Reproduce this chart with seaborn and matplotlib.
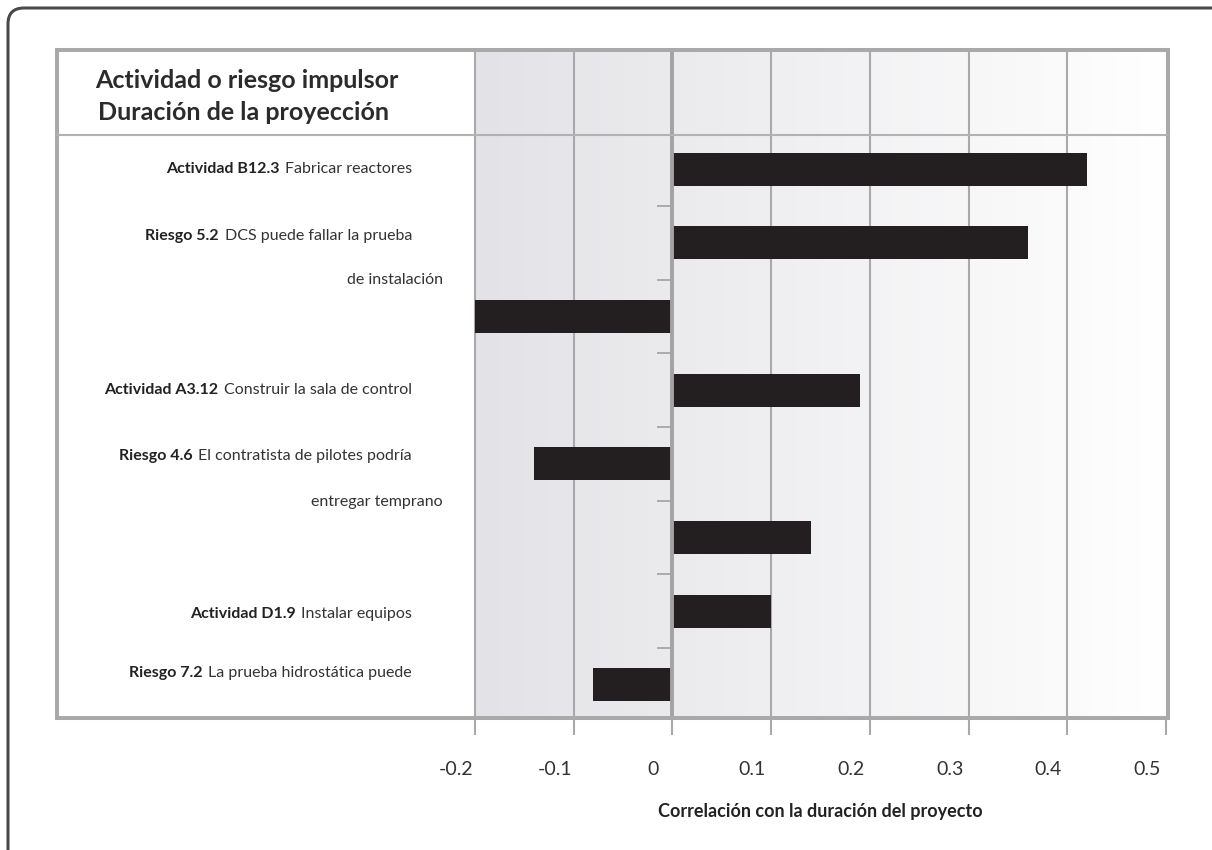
import numpy as np
import pandas as pd
import seaborn as sns
import matplotlib.pyplot as plt
from matplotlib.colors import LinearSegmentedColormap
from matplotlib.offsetbox import TextArea, HPacker, AnnotationBbox
from matplotlib.patches import FancyBboxPatch, Rectangle
from matplotlib.transforms import ScaledTranslation

# data
drivers = ["B12.3", "5.2", "sin etiqueta A", "A3.12", "4.6", "sin etiqueta B", "D1.9", "7.2"]
correlation = [0.42, 0.36, -0.20, 0.19, -0.14, 0.14, 0.10, -0.08]

label_bold = ["Actividad B12.3", "Riesgo 5.2", "", "Actividad A3.12", "Riesgo 4.6", "", "Actividad D1.9", "Riesgo 7.2"]
label_text = ["Fabricar reactores", "DCS puede fallar la prueba", "de instalación",
              "Construir la sala de control", "El contratista de pilotes podría",
              "entregar temprano", "Instalar equipos", "La prueba hidrostática puede"]
# vertical placement of each label line (in bar slots)
label_row = [0.0, 0.91, 1.5, 3.0, 3.9, 4.52, 6.04, 6.84]

x_ticks = [-0.2, -0.1, 0, 0.1, 0.2, 0.3, 0.4, 0.5]
x_ticklabels = ["-0.2", "-0.1", "0", "0.1", "0.2", "0.3", "0.4", "0.5"]

header_1 = "Actividad o riesgo impulsor"
header_2 = "Duración de la proyección"
x_title = "Correlación con la duración del proyecto"

df = pd.DataFrame({"driver": drivers, "corr": correlation})

sns.set_theme(style="white")
plt.rcParams["font.family"] = ["Lato", "DejaVu Sans"]

W, H = 1212, 850
fig = plt.figure(figsize=(W / 100, H / 100), dpi=100)

# plot area in pixels
L, R, T, B = 475, 1166, 52, 718
ax = fig.add_axes([L / W, 1 - B / H, (R - L) / W, (B - T) / H])

sns.barplot(data=df, x="corr", y="driver", orient="h", color="#231f20",
            saturation=1, width=0.45, linewidth=0, ax=ax, zorder=3)

ylo, yhi = 7.45, -1.59
grad = LinearSegmentedColormap.from_list("bg", ["#e3e3e7", "#ffffff"])
ax.imshow(np.linspace(0, 1, 256)[None, :], extent=[-0.2, 0.5, ylo, yhi],
          cmap=grad, aspect="auto", zorder=-1)
ax.set_xlim(-0.2, 0.5)
ax.set_ylim(ylo, yhi)

for xv in x_ticks[1:-1]:
    if xv == 0:
        continue
    ax.axvline(xv, color="#a9a9a9", lw=1.5, zorder=1)
ax.axvline(0, color="#a3a3a3", lw=2.8, zorder=4)

# small boundary marks left of the zero line
bounds = np.arange(len(drivers) - 1) + 0.5
ax.hlines(bounds, -0.016, -0.002, color="#a0a0a0", lw=1.2, zorder=4)

for side in ["top", "right", "bottom"]:
    ax.spines[side].set_visible(False)
ax.spines["left"].set_color("#a9a9a9")
ax.spines["left"].set_linewidth(1.5)

ax.set_yticks([])
ax.set_ylabel("")
ax.set_xticks(x_ticks)
ax.set_xticklabels(x_ticklabels)
ax.tick_params(axis="x", bottom=True, direction="out", length=12, width=1.5,
               color="#a9a9a9", pad=19, labelsize=14, labelcolor="#333333")
shift = ScaledTranslation(-0.19, 0, fig.dpi_scale_trans)
for lab in ax.get_xticklabels():
    lab.set_transform(lab.get_transform() + shift)
ax.set_xlabel(x_title, fontsize=13, fontweight="bold", color="#222222", labelpad=18)

# category labels: bold id + regular description, right aligned
ytrans = ax.get_yaxis_transform()
x_main = (412 - L) / (R - L)
x_cont = (443 - L) / (R - L)
for bold, txt, row in zip(label_bold, label_text, label_row):
    parts = []
    if bold:
        parts.append(TextArea(bold, textprops=dict(fontsize=11.5, fontweight="bold", color="#222222")))
    parts.append(TextArea(txt, textprops=dict(fontsize=11.5, color="#333333")))
    box = HPacker(children=parts, align="center", pad=0, sep=4)
    xpos = x_main if bold else x_cont
    ab = AnnotationBbox(box, (xpos, row), xycoords=ytrans, box_alignment=(1, 0.5),
                        frameon=False, pad=0, annotation_clip=False)
    ax.add_artist(ab)

# frame and header drawn in pixel space
ov = fig.add_axes([0, 0, 1, 1], zorder=5)
ov.set_xlim(0, W)
ov.set_ylim(H, 0)
ov.axis("off")
ov.patch.set_alpha(0)
ov.add_patch(Rectangle((57, 50), 1168 - 57, 718 - 50, fill=False, ec="#a9a9a9", lw=2.9))
ov.plot([57, 1168], [135, 135], color="#b2b2b2", lw=1.5)
ov.add_patch(FancyBboxPatch((8, 8), 1240, 880, boxstyle="round,pad=0,rounding_size=16",
                            fill=False, ec="#4a4a4a", lw=2.2, clip_on=False))
ov.text(95, 80, header_1, fontsize=18, fontweight="bold", color="#2b2b2b",
        va="center", ha="left")
ov.text(98, 112, header_2, fontsize=18, fontweight="bold", color="#2b2b2b",
        va="center", ha="left")

fig.savefig("out.png", dpi=100)
